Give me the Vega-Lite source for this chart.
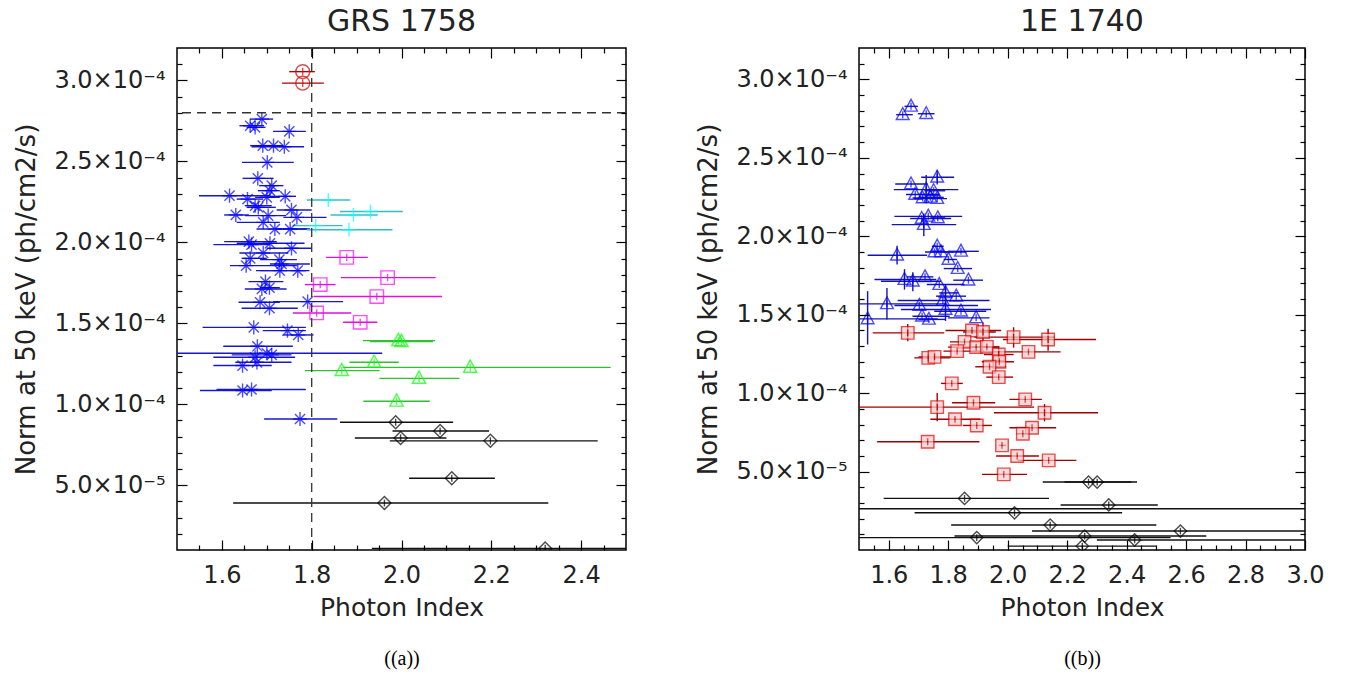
{
"$schema": "https://vega.github.io/schema/vega-lite/v6.json",
"background": "white",
"padding": {"left": 13, "top": 6, "right": 5, "bottom": 5},
"spacing": 67,
"datasets": {
"grs": [
{"s":"circ","x":1.78,"lo":1.75,"hi":1.807,"y":3.054},
{"s":"circ","x":1.78,"lo":1.734,"hi":1.827,"y":2.983},
{"s":"ast","x":1.689,"lo":1.663,"hi":1.714,"y":2.761},
{"s":"ast","x":1.663,"lo":1.639,"hi":1.694,"y":2.72},
{"s":"ast","x":1.674,"lo":1.655,"hi":1.697,"y":2.71},
{"s":"ast","x":1.75,"lo":1.714,"hi":1.787,"y":2.685},
{"s":"ast","x":1.691,"lo":1.663,"hi":1.707,"y":2.597},
{"s":"ast","x":1.715,"lo":1.692,"hi":1.737,"y":2.597},
{"s":"ast","x":1.739,"lo":1.666,"hi":1.783,"y":2.59},
{"s":"ast","x":1.701,"lo":1.645,"hi":1.76,"y":2.494},
{"s":"ast","x":1.68,"lo":1.646,"hi":1.715,"y":2.395},
{"s":"ast","x":1.711,"lo":1.683,"hi":1.737,"y":2.35},
{"s":"ast","x":1.707,"lo":1.68,"hi":1.729,"y":2.319},
{"s":"ast","x":1.617,"lo":1.549,"hi":1.707,"y":2.288},
{"s":"ast","x":1.657,"lo":1.633,"hi":1.692,"y":2.267},
{"s":"ast","x":1.7,"lo":1.674,"hi":1.729,"y":2.278},
{"s":"ast","x":1.741,"lo":1.707,"hi":1.765,"y":2.284},
{"s":"ast","x":1.674,"lo":1.651,"hi":1.711,"y":2.226},
{"s":"ast","x":1.681,"lo":1.655,"hi":1.72,"y":2.216},
{"s":"ast","x":1.755,"lo":1.722,"hi":1.8,"y":2.2},
{"s":"ast","x":1.631,"lo":1.605,"hi":1.66,"y":2.169},
{"s":"ast","x":1.703,"lo":1.651,"hi":1.743,"y":2.165},
{"s":"ast","x":1.767,"lo":1.737,"hi":1.833,"y":2.154},
{"s":"ast","x":1.692,"lo":1.633,"hi":1.729,"y":2.123},
{"s":"ast","x":1.718,"lo":1.677,"hi":1.796,"y":2.082},
{"s":"ast","x":1.752,"lo":1.72,"hi":1.79,"y":2.082},
{"s":"ast","x":1.66,"lo":1.605,"hi":1.722,"y":2.004},
{"s":"ast","x":1.666,"lo":1.581,"hi":1.707,"y":1.986},
{"s":"ast","x":1.707,"lo":1.633,"hi":1.784,"y":1.994},
{"s":"ast","x":1.755,"lo":1.7,"hi":1.8,"y":1.963},
{"s":"ast","x":1.692,"lo":1.639,"hi":1.748,"y":1.934},
{"s":"ast","x":1.663,"lo":1.644,"hi":1.7,"y":1.901},
{"s":"ast","x":1.728,"lo":1.685,"hi":1.767,"y":1.893},
{"s":"ast","x":1.733,"lo":1.707,"hi":1.796,"y":1.866},
{"s":"ast","x":1.654,"lo":1.618,"hi":1.767,"y":1.856},
{"s":"ast","x":1.729,"lo":1.685,"hi":1.788,"y":1.825},
{"s":"ast","x":1.769,"lo":1.676,"hi":1.795,"y":1.825},
{"s":"ast","x":1.697,"lo":1.659,"hi":1.737,"y":1.757},
{"s":"ast","x":1.689,"lo":1.651,"hi":1.744,"y":1.712},
{"s":"ast","x":1.706,"lo":1.685,"hi":1.729,"y":1.72},
{"s":"ast","x":1.685,"lo":1.637,"hi":1.729,"y":1.63},
{"s":"ast","x":1.706,"lo":1.644,"hi":1.769,"y":1.593},
{"s":"ast","x":1.791,"lo":1.714,"hi":1.87,"y":1.634},
{"s":"ast","x":1.671,"lo":1.557,"hi":1.787,"y":1.475},
{"s":"ast","x":1.746,"lo":1.691,"hi":1.787,"y":1.455},
{"s":"ast","x":1.77,"lo":1.737,"hi":1.804,"y":1.428},
{"s":"ast","x":1.679,"lo":1.603,"hi":1.758,"y":1.358},
{"s":"ast","x":1.7,"lo":1.45,"hi":1.957,"y":1.315},
{"s":"ast","x":1.711,"lo":1.622,"hi":1.755,"y":1.305},
{"s":"ast","x":1.674,"lo":1.581,"hi":1.763,"y":1.29},
{"s":"ast","x":1.678,"lo":1.63,"hi":1.755,"y":1.259},
{"s":"ast","x":1.646,"lo":1.581,"hi":1.711,"y":1.239},
{"s":"ast","x":1.646,"lo":1.551,"hi":1.711,"y":1.085},
{"s":"ast","x":1.666,"lo":1.588,"hi":1.787,"y":1.091},
{"s":"ast","x":1.774,"lo":1.694,"hi":1.857,"y":0.909},
{"s":"plus","x":1.837,"lo":1.789,"hi":1.886,"y":2.261},
{"s":"plus","x":1.931,"lo":1.863,"hi":2.003,"y":2.19},
{"s":"plus","x":1.893,"lo":1.842,"hi":1.947,"y":2.169},
{"s":"plus","x":1.809,"lo":1.758,"hi":1.869,"y":2.103},
{"s":"plus","x":1.883,"lo":1.789,"hi":1.98,"y":2.078},
{"s":"sq","x":1.878,"lo":1.832,"hi":1.925,"y":1.907},
{"s":"sq","x":1.969,"lo":1.865,"hi":2.076,"y":1.782},
{"s":"sq","x":1.819,"lo":1.785,"hi":1.853,"y":1.739},
{"s":"sq","x":1.945,"lo":1.804,"hi":2.09,"y":1.665},
{"s":"sq","x":1.811,"lo":1.758,"hi":1.888,"y":1.564},
{"s":"sq","x":1.908,"lo":1.87,"hi":1.946,"y":1.506},
{"s":"tri","x":1.993,"lo":1.914,"hi":2.075,"y":1.393},
{"s":"tri","x":2.0,"lo":1.93,"hi":2.07,"y":1.387},
{"s":"tri","x":2.153,"lo":1.87,"hi":2.466,"y":1.228},
{"s":"tri","x":1.939,"lo":1.884,"hi":1.994,"y":1.259},
{"s":"tri","x":1.867,"lo":1.785,"hi":1.951,"y":1.208},
{"s":"tri","x":2.039,"lo":1.951,"hi":2.129,"y":1.16},
{"s":"tri","x":1.989,"lo":1.915,"hi":2.063,"y":1.019},
{"s":"dia","x":1.987,"lo":1.863,"hi":2.115,"y":0.889},
{"s":"dia","x":2.086,"lo":1.98,"hi":2.195,"y":0.835},
{"s":"dia","x":1.998,"lo":1.896,"hi":2.1,"y":0.792},
{"s":"dia","x":2.198,"lo":1.974,"hi":2.437,"y":0.774},
{"s":"dia","x":2.112,"lo":2.017,"hi":2.208,"y":0.543},
{"s":"dia","x":1.962,"lo":1.625,"hi":2.327,"y":0.39},
{"s":"dia","x":2.32,"lo":1.934,"hi":2.7,"y":0.11}
],
"e1740": [
{"s":"etri","x":1.647,"lo":1.625,"hi":1.681,"y":2.775},
{"s":"etri","x":1.675,"lo":1.653,"hi":1.698,"y":2.828},
{"s":"etri","x":1.726,"lo":1.698,"hi":1.754,"y":2.781},
{"s":"etri","x":1.763,"lo":1.709,"hi":1.82,"y":2.376,"ylo":2.33,"yhi":2.42},
{"s":"etri","x":1.675,"lo":1.622,"hi":1.731,"y":2.333},
{"s":"etri","x":1.726,"lo":1.617,"hi":1.834,"y":2.297,"ylo":2.21,"yhi":2.39},
{"s":"etri","x":1.751,"lo":1.72,"hi":1.79,"y":2.29},
{"s":"etri","x":1.689,"lo":1.658,"hi":1.77,"y":2.266},
{"s":"etri","x":1.714,"lo":1.68,"hi":1.775,"y":2.244},
{"s":"etri","x":1.74,"lo":1.7,"hi":1.785,"y":2.248},
{"s":"etri","x":1.763,"lo":1.686,"hi":1.796,"y":2.24},
{"s":"etri","x":1.733,"lo":1.619,"hi":1.847,"y":2.127},
{"s":"etri","x":1.711,"lo":1.672,"hi":1.81,"y":2.113},
{"s":"etri","x":1.765,"lo":1.74,"hi":1.79,"y":2.117},
{"s":"etri","x":1.718,"lo":1.61,"hi":1.827,"y":2.074,"ylo":2.0,"yhi":2.145},
{"s":"etri","x":1.628,"lo":1.529,"hi":1.729,"y":1.879,"ylo":1.82,"yhi":1.94},
{"s":"etri","x":1.763,"lo":1.745,"hi":1.785,"y":1.936},
{"s":"etri","x":1.754,"lo":1.722,"hi":1.862,"y":1.9},
{"s":"etri","x":1.776,"lo":1.742,"hi":1.82,"y":1.9},
{"s":"etri","x":1.801,"lo":1.785,"hi":1.83,"y":1.852},
{"s":"etri","x":1.843,"lo":1.799,"hi":1.903,"y":1.904},
{"s":"etri","x":1.832,"lo":1.785,"hi":1.88,"y":1.794},
{"s":"etri","x":1.868,"lo":1.817,"hi":1.917,"y":1.72},
{"s":"etri","x":1.653,"lo":1.552,"hi":1.76,"y":1.724,"ylo":1.66,"yhi":1.79},
{"s":"etri","x":1.681,"lo":1.574,"hi":1.776,"y":1.713,"ylo":1.65,"yhi":1.77},
{"s":"etri","x":1.722,"lo":1.661,"hi":1.75,"y":1.741},
{"s":"etri","x":1.77,"lo":1.728,"hi":1.855,"y":1.692},
{"s":"etri","x":1.791,"lo":1.77,"hi":1.835,"y":1.639,"ylo":1.59,"yhi":1.69},
{"s":"etri","x":1.827,"lo":1.759,"hi":1.86,"y":1.618},
{"s":"etri","x":1.782,"lo":1.63,"hi":1.939,"y":1.59},
{"s":"etri","x":1.594,"lo":1.47,"hi":1.793,"y":1.569,"ylo":1.47,"yhi":1.67},
{"s":"etri","x":1.703,"lo":1.619,"hi":1.9,"y":1.559},
{"s":"etri","x":1.791,"lo":1.641,"hi":1.944,"y":1.533,"ylo":1.46,"yhi":1.6},
{"s":"etri","x":1.529,"lo":1.4,"hi":1.765,"y":1.473,"ylo":1.31,"yhi":1.65},
{"s":"etri","x":1.712,"lo":1.68,"hi":1.805,"y":1.49},
{"s":"etri","x":1.735,"lo":1.7,"hi":1.79,"y":1.47},
{"s":"etri","x":1.843,"lo":1.753,"hi":1.928,"y":1.522},
{"s":"etri","x":1.894,"lo":1.799,"hi":1.939,"y":1.48},
{"s":"esq","x":1.664,"lo":1.546,"hi":1.787,"y":1.384,"ylo":1.33,"yhi":1.44},
{"s":"esq","x":1.88,"lo":1.791,"hi":1.978,"y":1.399},
{"s":"esq","x":1.917,"lo":1.85,"hi":1.96,"y":1.39,"ylo":1.33,"yhi":1.45},
{"s":"esq","x":2.02,"lo":1.888,"hi":2.158,"y":1.357,"ylo":1.29,"yhi":1.42},
{"s":"esq","x":2.136,"lo":1.984,"hi":2.297,"y":1.342,"ylo":1.27,"yhi":1.41},
{"s":"esq","x":1.855,"lo":1.806,"hi":1.911,"y":1.327},
{"s":"esq","x":1.894,"lo":1.799,"hi":1.967,"y":1.293},
{"s":"esq","x":1.93,"lo":1.88,"hi":1.97,"y":1.295},
{"s":"esq","x":1.83,"lo":1.784,"hi":1.922,"y":1.268},
{"s":"esq","x":2.07,"lo":1.877,"hi":2.178,"y":1.263},
{"s":"esq","x":1.97,"lo":1.92,"hi":2.02,"y":1.246,"ylo":1.2,"yhi":1.3},
{"s":"esq","x":1.733,"lo":1.686,"hi":1.807,"y":1.225},
{"s":"esq","x":1.754,"lo":1.7,"hi":1.81,"y":1.231},
{"s":"esq","x":1.972,"lo":1.913,"hi":2.021,"y":1.2},
{"s":"esq","x":1.939,"lo":1.891,"hi":1.995,"y":1.168},
{"s":"esq","x":1.97,"lo":1.928,"hi":2.018,"y":1.102},
{"s":"esq","x":1.812,"lo":1.776,"hi":1.849,"y":1.062},
{"s":"esq","x":2.059,"lo":2.006,"hi":2.115,"y":0.96},
{"s":"esq","x":1.885,"lo":1.813,"hi":1.958,"y":0.939},
{"s":"esq","x":1.763,"lo":1.497,"hi":2.089,"y":0.911,"ylo":0.82,"yhi":1.0},
{"s":"esq","x":2.124,"lo":1.954,"hi":2.304,"y":0.875,"ylo":0.82,"yhi":0.93},
{"s":"esq","x":1.823,"lo":1.74,"hi":1.908,"y":0.833},
{"s":"esq","x":1.896,"lo":1.849,"hi":1.947,"y":0.794},
{"s":"esq","x":2.082,"lo":2.006,"hi":2.163,"y":0.779},
{"s":"esq","x":2.051,"lo":2.03,"hi":2.07,"y":0.741},
{"s":"esq","x":1.731,"lo":1.561,"hi":1.905,"y":0.69},
{"s":"esq","x":1.981,"lo":1.97,"hi":1.995,"y":0.667},
{"s":"esq","x":2.032,"lo":1.961,"hi":2.105,"y":0.599},
{"s":"esq","x":2.138,"lo":2.034,"hi":2.231,"y":0.571},
{"s":"esq","x":1.987,"lo":1.914,"hi":2.065,"y":0.482},
{"s":"edia","x":2.272,"lo":2.118,"hi":2.435,"y":0.433},
{"s":"edia","x":2.301,"lo":2.191,"hi":2.416,"y":0.433},
{"s":"edia","x":1.855,"lo":1.583,"hi":2.139,"y":0.329},
{"s":"edia","x":2.34,"lo":2.178,"hi":2.505,"y":0.287},
{"s":"edia","x":3.3,"lo":1.2,"hi":3.6,"y":0.263},
{"s":"edia","x":2.023,"lo":1.687,"hi":2.385,"y":0.237},
{"s":"edia","x":2.143,"lo":1.81,"hi":2.5,"y":0.159},
{"s":"edia","x":2.581,"lo":2.082,"hi":3.2,"y":0.121},
{"s":"edia","x":1.896,"lo":1.45,"hi":2.548,"y":0.079},
{"s":"edia","x":2.259,"lo":1.821,"hi":2.668,"y":0.089},
{"s":"edia","x":2.427,"lo":2.3,"hi":3.2,"y":0.064},
{"s":"edia","x":2.251,"lo":2.0,"hi":2.5,"y":0.025}
]
},
"hconcat": [
{
"width": 449, "height": 502,
"title": {"text": "GRS 1758", "offset": 10, "font": "DejaVu Sans", "fontSize": 30, "fontWeight": "normal", "color": "#222222"},
"layer": [
{"data": {"name": "grs"}, "mark": {"type": "rule", "strokeWidth": 1.4, "clip": true},
 "encoding": {
  "x": {"field": "lo", "type": "quantitative", "scale": {"domain": [1.5, 2.5], "nice": false, "zero": false},
        "axis": {"orient": "bottom", "values": [1.6, 1.8, 2.0, 2.2, 2.4], "format": ".1f", "ticks": false, "labelFlush": false, "labelFont": "DejaVu Sans", "labelColor": "#222222", "labelFontSize": 24, "labelPadding": 13, "title": "Photon Index", "titleFont": "DejaVu Sans", "titleFontWeight": "normal", "titleColor": "#222222", "titleFontSize": 25, "titlePadding": 8}},
  "x2": {"field": "hi"},
  "y": {"field": "y", "type": "quantitative", "scale": {"domain": [0.1, 3.2], "nice": false, "zero": false},
        "axis": {"orient": "left", "values": [0.5, 1, 1.5, 2, 2.5, 3], "labelExpr": "datum.value < 0.75 ? '5.0×10⁻⁵' : format(datum.value, '.1f') + '×10⁻⁴'", "ticks": false, "labelFlush": false, "labelFont": "DejaVu Sans", "labelColor": "#222222", "labelFontSize": 24, "labelPadding": 12, "title": "Norm at 50 keV (ph/cm2/s)", "titleFont": "DejaVu Sans", "titleFontWeight": "normal", "titleColor": "#222222", "titleFontSize": 26, "titlePadding": 14}},
  "stroke": {"field": "s", "type": "nominal", "scale": {"domain": ["ast","circ","plus","sq","tri","dia","etri","esq","edia"], "range": ["#1818c8","#b00000","#30c0c0","#e010e0","#30c030","#111111","#1414b4","#a00000","#111111"]}, "legend": null}
 }},
{"data": {"name": "grs"}, "mark": {"type": "point", "filled": false, "strokeWidth": 1.4, "clip": true},
 "encoding": {
  "x": {"field": "x", "type": "quantitative", "scale": {"domain": [1.5, 2.5], "nice": false, "zero": false},
        "axis": {"orient": "top", "values": [1.6, 1.8, 2.0, 2.2, 2.4], "labels": false, "ticks": true, "tickSize": 10, "tickOpacity": 1, "offset": -10, "zindex": 2, "title": null}},
  "y": {"field": "y", "type": "quantitative", "scale": {"domain": [0.1, 3.2], "nice": false, "zero": false},
        "axis": {"orient": "right", "values": [0.5, 1, 1.5, 2, 2.5, 3], "labels": false, "ticks": true, "tickSize": 10, "tickOpacity": 1, "offset": -10, "zindex": 2, "title": null}},
  "color": {"field": "s", "type": "nominal", "scale": {"domain": ["ast","circ","plus","sq","tri","dia","etri","esq","edia"], "range": ["#0000ff","#d00000","#00ffff","#ff00ff","#00ff00","#000000","#0000ff","#e00000","#000000"]}, "legend": null},
  "fill": {"field": "s", "type": "nominal", "scale": {"domain": ["ast","circ","plus","sq","tri","dia","etri","esq","edia"], "range": ["transparent","transparent","transparent","transparent","transparent","transparent","transparent","#f2cccc","transparent"]}, "legend": null},
  "shape": {"field": "s", "type": "nominal", "scale": {"domain": ["ast","circ","plus","sq","tri","dia","etri","esq","edia"], "range": ["M-1,0L1,0M0,-1L0,1M-0.72,-0.72L0.72,0.72M-0.72,0.72L0.72,-0.72","M-1,0A1,1,0,1,1,1,0A1,1,0,1,1,-1,0ZM0,-0.55L0,0.55","M-1,0L1,0M0,-1L0,1","M-1,-1L1,-1L1,1L-1,1ZM0,-0.55L0,0.55","M0,-1.1L1,0.75L-1,0.75ZM0,-0.55L0,0.55","M0,-1L1,0L0,1L-1,0ZM0,-0.55L0,0.55","M0,-1.1L1,0.75L-1,0.75ZM0,-0.55L0,0.55","M-1,-1L1,-1L1,1L-1,1ZM0,-0.55L0,0.55","M0,-1L1,0L0,1L-1,0ZM0,-0.55L0,0.55"]}, "legend": null},
  "size": {"field": "s", "type": "nominal", "scale": {"domain": ["ast","circ","plus","sq","tri","dia","etri","esq","edia"], "range": [200,150,170,150,150,150,150,130,140]}, "legend": null}
 }},
{"data": {"values": [{"x": 1.8}]}, "mark": {"type": "rule", "strokeDash": [9, 6], "color": "#333333", "strokeWidth": 1.3},
 "encoding": {
  "x": {"field": "x", "type": "quantitative", "scale": {"domain": [1.5, 2.5], "nice": false, "zero": false},
        "axis": {"orient": "bottom", "values": [1.6, 1.8, 2.0, 2.2, 2.4], "labels": false, "ticks": true, "tickSize": 10, "tickOpacity": 1, "offset": -10, "zindex": 2, "title": "((a))", "titleFont": "Liberation Serif", "titleFontWeight": "normal", "titleFontSize": 20, "titleColor": "#000000", "titlePadding": 98}}
 }},
{"data": {"values": [{"y": 2.8}]}, "mark": {"type": "rule", "strokeDash": [9, 6], "color": "#333333", "strokeWidth": 1.3},
 "encoding": {
  "y": {"field": "y", "type": "quantitative", "scale": {"domain": [0.1, 3.2], "nice": false, "zero": false},
        "axis": {"orient": "left", "values": [0.5, 1, 1.5, 2, 2.5, 3], "labels": false, "ticks": true, "tickSize": 10, "tickOpacity": 1, "offset": -10, "zindex": 2, "title": null}}
 }},
{"data": {"name": "grs"}, "mark": {"type": "point", "opacity": 0},
 "encoding": {
  "x": {"field": "x", "type": "quantitative", "scale": {"domain": [1.5, 2.5], "nice": false, "zero": false},
        "axis": {"orient": "bottom", "values": [1.55,1.65,1.7,1.75,1.85,1.9,1.95,2.05,2.1,2.15,2.25,2.3,2.35,2.45], "labels": false, "ticks": true, "tickSize": 5, "tickOpacity": 1, "offset": -5, "zindex": 2, "title": null}},
  "y": {"field": "y", "type": "quantitative", "scale": {"domain": [0.1, 3.2], "nice": false, "zero": false},
        "axis": {"orient": "left", "values": [0.2,0.3,0.4,0.6,0.7,0.8,0.9,1.1,1.2,1.3,1.4,1.6,1.7,1.8,1.9,2.1,2.2,2.3,2.4,2.6,2.7,2.8,2.9,3.1], "labels": false, "ticks": true, "tickSize": 5, "tickOpacity": 1, "offset": -5, "zindex": 2, "title": null}}
 }},
{"data": {"name": "grs"}, "mark": {"type": "point", "opacity": 0},
 "encoding": {
  "x": {"field": "x", "type": "quantitative", "scale": {"domain": [1.5, 2.5], "nice": false, "zero": false},
        "axis": {"orient": "top", "values": [1.55,1.65,1.7,1.75,1.85,1.9,1.95,2.05,2.1,2.15,2.25,2.3,2.35,2.45], "labels": false, "ticks": true, "tickSize": 5, "tickOpacity": 1, "offset": -5, "zindex": 2, "title": null}},
  "y": {"field": "y", "type": "quantitative", "scale": {"domain": [0.1, 3.2], "nice": false, "zero": false},
        "axis": {"orient": "right", "values": [0.2,0.3,0.4,0.6,0.7,0.8,0.9,1.1,1.2,1.3,1.4,1.6,1.7,1.8,1.9,2.1,2.2,2.3,2.4,2.6,2.7,2.8,2.9,3.1], "labels": false, "ticks": true, "tickSize": 5, "tickOpacity": 1, "offset": -5, "zindex": 2, "title": null}}
 }}
],
"resolve": {"axis": {"x": "independent", "y": "independent"}}
},
{
"width": 446, "height": 502,
"title": {"text": "1E 1740", "offset": 10, "font": "DejaVu Sans", "fontSize": 30, "fontWeight": "normal", "color": "#222222"},
"layer": [
{"data": {"name": "e1740"}, "mark": {"type": "rule", "strokeWidth": 1.4, "clip": true},
 "encoding": {
  "x": {"field": "lo", "type": "quantitative", "scale": {"domain": [1.5, 3.0], "nice": false, "zero": false},
        "axis": {"orient": "bottom", "values": [1.6, 1.8, 2.0, 2.2, 2.4, 2.6, 2.8, 3.0], "format": ".1f", "ticks": false, "labelFlush": false, "labelFont": "DejaVu Sans", "labelColor": "#222222", "labelFontSize": 24, "labelPadding": 13, "title": "Photon Index", "titleFont": "DejaVu Sans", "titleFontWeight": "normal", "titleColor": "#222222", "titleFontSize": 25, "titlePadding": 8}},
  "x2": {"field": "hi"},
  "y": {"field": "y", "type": "quantitative", "scale": {"domain": [0, 3.2], "nice": false, "zero": false},
        "axis": {"orient": "left", "values": [0.5, 1, 1.5, 2, 2.5, 3], "labelExpr": "datum.value < 0.75 ? '5.0×10⁻⁵' : format(datum.value, '.1f') + '×10⁻⁴'", "ticks": false, "labelFlush": false, "labelFont": "DejaVu Sans", "labelColor": "#222222", "labelFontSize": 24, "labelPadding": 12, "title": "Norm at 50 keV (ph/cm2/s)", "titleFont": "DejaVu Sans", "titleFontWeight": "normal", "titleColor": "#222222", "titleFontSize": 26, "titlePadding": 14}},
  "stroke": {"field": "s", "type": "nominal", "scale": {"domain": ["ast","circ","plus","sq","tri","dia","etri","esq","edia"], "range": ["#1818c8","#b00000","#30c0c0","#e010e0","#30c030","#111111","#1414b4","#a00000","#111111"]}, "legend": null}
 }},
{"data": {"name": "e1740"}, "transform": [{"filter": "isValid(datum.ylo)"}], "mark": {"type": "rule", "strokeWidth": 1.4, "clip": true},
 "encoding": {
  "x": {"field": "x", "type": "quantitative", "scale": {"domain": [1.5, 3.0], "nice": false, "zero": false},
        "axis": {"orient": "top", "values": [1.6, 1.8, 2.0, 2.2, 2.4, 2.6, 2.8, 3.0], "labels": false, "ticks": true, "tickSize": 10, "tickOpacity": 1, "offset": -10, "zindex": 2, "title": null}},
  "y": {"field": "ylo", "type": "quantitative", "scale": {"domain": [0, 3.2], "nice": false, "zero": false},
        "axis": {"orient": "right", "values": [0.5, 1, 1.5, 2, 2.5, 3], "labels": false, "ticks": true, "tickSize": 10, "tickOpacity": 1, "offset": -10, "zindex": 2, "title": null}},
  "y2": {"field": "yhi"},
  "stroke": {"field": "s", "type": "nominal", "scale": {"domain": ["ast","circ","plus","sq","tri","dia","etri","esq","edia"], "range": ["#1818c8","#b00000","#30c0c0","#e010e0","#30c030","#111111","#1414b4","#a00000","#111111"]}, "legend": null}
 }},
{"data": {"name": "e1740"}, "mark": {"type": "point", "filled": false, "strokeWidth": 1.4, "clip": true},
 "encoding": {
  "x": {"field": "x", "type": "quantitative", "scale": {"domain": [1.5, 3.0], "nice": false, "zero": false},
        "axis": {"orient": "bottom", "values": [1.6, 1.8, 2.0, 2.2, 2.4, 2.6, 2.8, 3.0], "labels": false, "ticks": true, "tickSize": 10, "tickOpacity": 1, "offset": -10, "zindex": 2, "title": "((b))", "titleFont": "Liberation Serif", "titleFontWeight": "normal", "titleFontSize": 20, "titleColor": "#000000", "titlePadding": 98}},
  "y": {"field": "y", "type": "quantitative", "scale": {"domain": [0, 3.2], "nice": false, "zero": false},
        "axis": {"orient": "left", "values": [0.5, 1, 1.5, 2, 2.5, 3], "labels": false, "ticks": true, "tickSize": 10, "tickOpacity": 1, "offset": -10, "zindex": 2, "title": null}},
  "color": {"field": "s", "type": "nominal", "scale": {"domain": ["ast","circ","plus","sq","tri","dia","etri","esq","edia"], "range": ["#0000ff","#d00000","#00ffff","#ff00ff","#00ff00","#000000","#0000ff","#e00000","#000000"]}, "legend": null},
  "fill": {"field": "s", "type": "nominal", "scale": {"domain": ["ast","circ","plus","sq","tri","dia","etri","esq","edia"], "range": ["transparent","transparent","transparent","transparent","transparent","transparent","transparent","#f2cccc","transparent"]}, "legend": null},
  "shape": {"field": "s", "type": "nominal", "scale": {"domain": ["ast","circ","plus","sq","tri","dia","etri","esq","edia"], "range": ["M-1,0L1,0M0,-1L0,1M-0.72,-0.72L0.72,0.72M-0.72,0.72L0.72,-0.72","M-1,0A1,1,0,1,1,1,0A1,1,0,1,1,-1,0ZM0,-0.55L0,0.55","M-1,0L1,0M0,-1L0,1","M-1,-1L1,-1L1,1L-1,1ZM0,-0.55L0,0.55","M0,-1.1L1,0.75L-1,0.75ZM0,-0.55L0,0.55","M0,-1L1,0L0,1L-1,0ZM0,-0.55L0,0.55","M0,-1.1L1,0.75L-1,0.75ZM0,-0.55L0,0.55","M-1,-1L1,-1L1,1L-1,1ZM0,-0.55L0,0.55","M0,-1L1,0L0,1L-1,0ZM0,-0.55L0,0.55"]}, "legend": null},
  "size": {"field": "s", "type": "nominal", "scale": {"domain": ["ast","circ","plus","sq","tri","dia","etri","esq","edia"], "range": [200,150,170,150,150,150,150,130,140]}, "legend": null}
 }},
{"data": {"name": "e1740"}, "mark": {"type": "point", "opacity": 0},
 "encoding": {
  "x": {"field": "x", "type": "quantitative", "scale": {"domain": [1.5, 3.0], "nice": false, "zero": false},
        "axis": {"orient": "bottom", "values": [1.55,1.65,1.7,1.75,1.85,1.9,1.95,2.05,2.1,2.15,2.25,2.3,2.35,2.45,2.5,2.55,2.65,2.7,2.75,2.85,2.9,2.95], "labels": false, "ticks": true, "tickSize": 5, "tickOpacity": 1, "offset": -5, "zindex": 2, "title": null}},
  "y": {"field": "y", "type": "quantitative", "scale": {"domain": [0, 3.2], "nice": false, "zero": false},
        "axis": {"orient": "left", "values": [0.1,0.2,0.3,0.4,0.6,0.7,0.8,0.9,1.1,1.2,1.3,1.4,1.6,1.7,1.8,1.9,2.1,2.2,2.3,2.4,2.6,2.7,2.8,2.9,3.1], "labels": false, "ticks": true, "tickSize": 5, "tickOpacity": 1, "offset": -5, "zindex": 2, "title": null}}
 }},
{"data": {"name": "e1740"}, "mark": {"type": "point", "opacity": 0},
 "encoding": {
  "x": {"field": "x", "type": "quantitative", "scale": {"domain": [1.5, 3.0], "nice": false, "zero": false},
        "axis": {"orient": "top", "values": [1.55,1.65,1.7,1.75,1.85,1.9,1.95,2.05,2.1,2.15,2.25,2.3,2.35,2.45,2.5,2.55,2.65,2.7,2.75,2.85,2.9,2.95], "labels": false, "ticks": true, "tickSize": 5, "tickOpacity": 1, "offset": -5, "zindex": 2, "title": null}},
  "y": {"field": "y", "type": "quantitative", "scale": {"domain": [0, 3.2], "nice": false, "zero": false},
        "axis": {"orient": "right", "values": [0.1,0.2,0.3,0.4,0.6,0.7,0.8,0.9,1.1,1.2,1.3,1.4,1.6,1.7,1.8,1.9,2.1,2.2,2.3,2.4,2.6,2.7,2.8,2.9,3.1], "labels": false, "ticks": true, "tickSize": 5, "tickOpacity": 1, "offset": -5, "zindex": 2, "title": null}}
 }}
],
"resolve": {"axis": {"x": "independent", "y": "independent"}}
}
],
"config": {
 "view": {"stroke": "#000000", "strokeWidth": 1.5},
 "axis": {"grid": false, "domain": false, "zindex": 1, "tickColor": "#000000", "tickWidth": 1.2}
}
}
